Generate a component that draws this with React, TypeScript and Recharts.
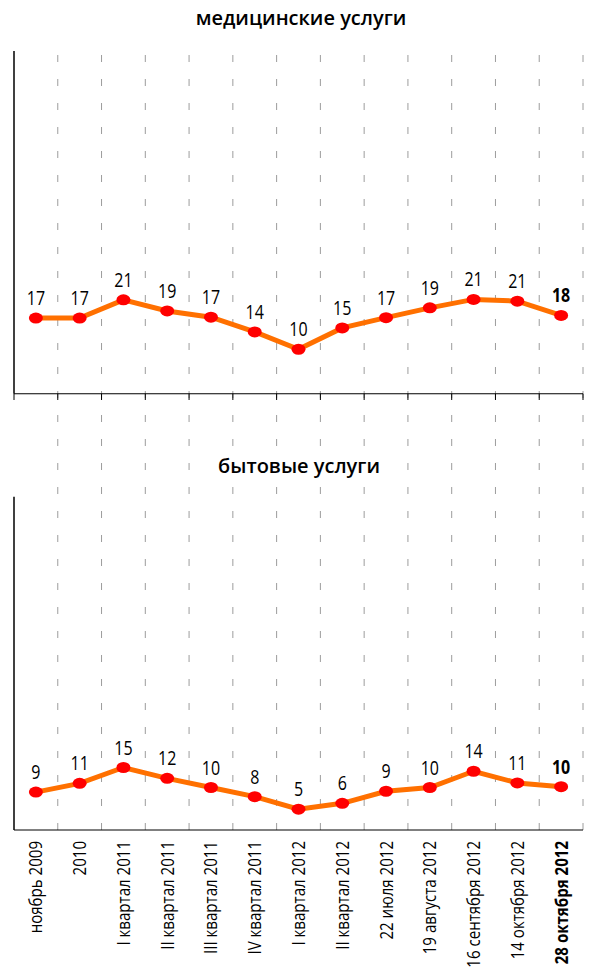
import { LineChart, Line, XAxis, YAxis, ReferenceLine, LabelList } from 'recharts'

const categories = [
  'ноябрь 2009',
  '2010',
  'I квартал 2011',
  'II квартал 2011',
  'III квартал 2011',
  'IV квартал 2011',
  'I квартал 2012',
  'II квартал 2012',
  '22 июля 2012',
  '19 августа 2012',
  '16 сентября 2012',
  '14 октября 2012',
  '28 октября 2012',
]
const medical = [17, 17, 21.1, 18.6, 17.2, 13.9, 10, 14.8, 17.1, 19.3, 21.2, 20.8, 17.6]
const household = [9.1, 11.2, 15, 12.4, 10.2, 8, 5, 6.4, 9.3, 10.2, 14.1, 11.3, 10.4]
const titles = ['медицинские услуги', 'бытовые услуги']

// top panel sits high on its own axis, bottom panel low on its own axis
const topDomain = [-98, 77]
const botDomain = [0, 187]
const topPanelMax = 77
const botPanelMax = 80

const font = "'Open Sans', 'DejaVu Sans', sans-serif"
const lastIdx = categories.length - 1

const data = categories.map((name, i) => ({
  x: i + 0.5,
  name,
  medical: medical[i],
  household: household[i],
}))
const boundaries = categories.map((_, i) => i + 1)
const centers = categories.map((_, i) => i + 0.5)

function Dot(props: any) {
  const { cx, cy, index } = props
  if (cx == null || cy == null) return null
  return <ellipse key={index} cx={cx} cy={cy} rx={7} ry={5.5} fill="#ff0000" />
}

function ValueLabel(props: any) {
  const { x, y, value, index } = props
  return (
    <text
      transform={`translate(${x}, ${y - 13}) scale(0.8, 1)`}
      textAnchor="middle"
      fontSize={20}
      fontFamily={font}
      fontWeight={index === lastIdx ? 700 : 400}
      fill="#000"
    >
      {Math.round(value)}
    </text>
  )
}

function CategoryTick(props: any) {
  const { x, y, payload } = props
  const i = Math.round(payload.value - 0.5)
  return (
    <text
      transform={`translate(${x}, ${y}) rotate(-90) scale(0.815, 1)`}
      textAnchor="end"
      dy="0.35em"
      fontSize={18.5}
      fontFamily={font}
      fontWeight={i === lastIdx ? 700 : 400}
      fill="#000"
    >
      {categories[i]}
    </text>
  )
}

export default function App() {
  return (
    <div style={{ position: 'absolute', left: 0, top: 0, width: 589, height: 969, background: '#fff' }}>
      <LineChart width={589} height={969} data={data} margin={{ top: 51, right: 6, bottom: 0, left: 14 }}>
        <XAxis
          xAxisId="grid"
          type="number"
          dataKey="x"
          domain={[0, categories.length]}
          ticks={boundaries}
          allowDataOverflow
          interval={0}
          tick={false}
          tickSize={6}
          height={1}
          stroke="#000"
        />
        <XAxis
          xAxisId="labels"
          type="number"
          dataKey="x"
          domain={[0, categories.length]}
          ticks={centers}
          allowDataOverflow
          interval={0}
          axisLine={false}
          tickLine={false}
          tickSize={0}
          tickMargin={10}
          height={138}
          tick={<CategoryTick />}
        />
        <YAxis yAxisId="top" hide type="number" domain={topDomain} allowDataOverflow />
        <YAxis yAxisId="bot" hide type="number" domain={botDomain} allowDataOverflow />

        {boundaries.map((b) => (
          <ReferenceLine
            key={'g' + b}
            xAxisId="grid"
            yAxisId="top"
            x={b}
            stroke="#9c9c9c"
            strokeWidth={1}
            strokeDasharray="7 17"
          />
        ))}
        <ReferenceLine xAxisId="grid" yAxisId="top" y={0} stroke="#000" strokeWidth={1.2} />
        <ReferenceLine
          xAxisId="grid"
          yAxisId="top"
          segment={[{ x: 0, y: 0 }, { x: 0, y: topPanelMax }]}
          stroke="#000"
          strokeWidth={1.5}
        />
        <ReferenceLine
          xAxisId="grid"
          yAxisId="bot"
          segment={[{ x: 0, y: 0 }, { x: 0, y: botPanelMax }]}
          stroke="#000"
          strokeWidth={1.5}
        />
        {[0, ...boundaries].map((b) => (
          <ReferenceLine
            key={'t' + b}
            xAxisId="grid"
            yAxisId="top"
            segment={[{ x: b, y: 0 }, { x: b, y: -1.4 }]}
            stroke="#000"
            strokeWidth={1}
          />
        ))}

        <Line
          xAxisId="grid"
          yAxisId="top"
          dataKey="medical"
          stroke="#ff7000"
          strokeWidth={5}
          dot={<Dot />}
          activeDot={false}
          isAnimationActive={false}
        >
          <LabelList dataKey="medical" content={<ValueLabel />} />
        </Line>
        <Line
          xAxisId="grid"
          yAxisId="bot"
          dataKey="household"
          stroke="#ff7000"
          strokeWidth={5}
          dot={<Dot />}
          activeDot={false}
          isAnimationActive={false}
        >
          <LabelList dataKey="household" content={<ValueLabel />} />
        </Line>
      </LineChart>

      <div
        style={{
          position: 'absolute', left: 150, top: 4, width: 302, lineHeight: '28px',
          textAlign: 'center', fontFamily: font, fontWeight: 600, fontSize: 20, color: '#000',
        }}
      >
        {titles[0]}
      </div>
      <div
        style={{
          position: 'absolute', left: 205, top: 447, width: 188, lineHeight: '38px',
          textAlign: 'center', fontFamily: font, fontWeight: 600, fontSize: 20, color: '#000',
          background: '#fff',
        }}
      >
        {titles[1]}
      </div>
    </div>
  )
}
